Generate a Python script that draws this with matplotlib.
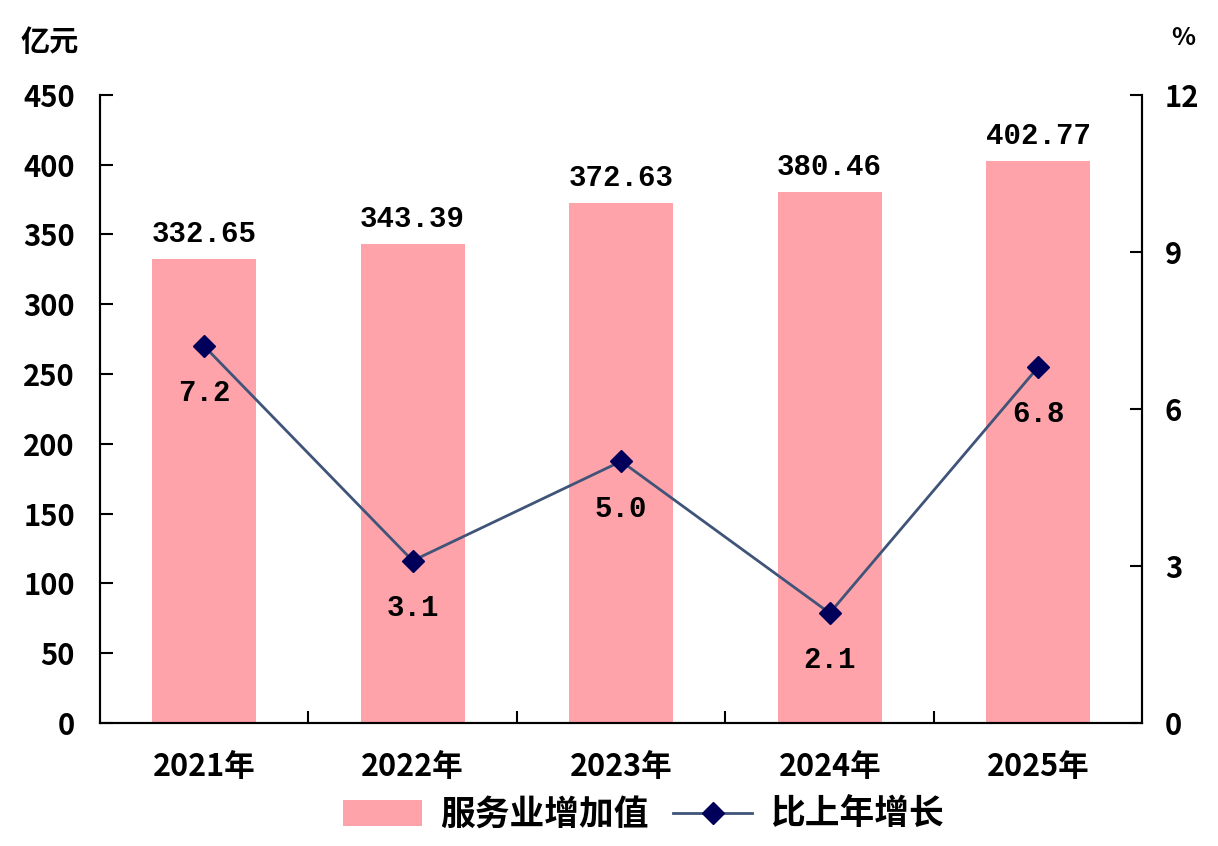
import matplotlib
matplotlib.use('Agg')
import matplotlib.pyplot as plt
import numpy as np
from matplotlib.patches import Patch
from matplotlib.lines import Line2D

plt.rcParams['font.family'] = ['Noto Sans CJK SC', 'DejaVu Sans']

# 数据
years = ['2021年', '2022年', '2023年', '2024年', '2025年']
service_value = [332.65, 343.39, 372.63, 380.46, 402.77]   # 亿元
growth = [7.2, 3.1, 5.0, 2.1, 6.8]                           # %

bar_color = '#FFA3AB'
line_color = '#3F5478'
marker_color = '#00005A'

fig = plt.figure(figsize=(12.18, 8.46), dpi=100)
ax = fig.add_axes([0.082, 0.1454, 0.856, 0.7424])
ax2 = ax.twinx()

x = np.arange(len(years))
ax.bar(x, service_value, width=0.5, color=bar_color, zorder=2)
ax.set_xlim(-0.5, len(years) - 0.5)
ax.set_ylim(0, 450)
ax.set_yticks(np.arange(0, 451, 50))
ax.set_xticks(x)
ax.set_xticklabels(years, fontsize=22, fontweight='bold')
ax.set_xticks(np.arange(0.5, len(years) - 1, 1), minor=True)
ax.tick_params(axis='x', which='major', length=0, pad=20)
ax.tick_params(axis='x', which='minor', direction='in', length=9, width=1.5)
ax.tick_params(axis='y', direction='in', length=9, width=1.5, labelsize=21, pad=18)
for lab in ax.get_yticklabels():
    lab.set_fontweight('bold')

for xi, v in zip(x, service_value):
    ax.annotate(f'{v:.2f}', xy=(xi, v), xytext=(0, 8), textcoords='offset points',
                ha='center', va='bottom', fontsize=21, fontweight='bold',
                family=['Liberation Mono', 'DejaVu Sans Mono'])

ax2.plot(x, growth, color=line_color, linewidth=2.0, marker='D', markersize=11,
         markerfacecolor=marker_color, markeredgecolor=marker_color, zorder=3)
ax2.set_ylim(0, 12)
ax2.set_yticks([0, 3, 6, 9, 12])
ax2.tick_params(axis='y', direction='in', length=9, width=1.5, labelsize=21, pad=16)
for lab in ax2.get_yticklabels():
    lab.set_fontweight('bold')

for xi, g in zip(x, growth):
    ax2.annotate(f'{g:.1f}', xy=(xi, g), xytext=(0, -34), textcoords='offset points',
                 ha='center', va='center', fontsize=21, fontweight='bold',
                 family=['Liberation Mono', 'DejaVu Sans Mono'])

for a in (ax, ax2):
    a.spines['top'].set_visible(False)
    for s in ('left', 'right', 'bottom'):
        a.spines[s].set_linewidth(1.5)

fig.text(50 / 1218, 1 - 42 / 846, '亿元', fontsize=21, fontweight='bold',
         ha='center', va='center')
fig.text(1183 / 1218, 1 - 38 / 846, '%', fontsize=18, fontweight='bold',
         ha='center', va='center')

handles = [Patch(facecolor=bar_color, edgecolor='none'),
           Line2D([0], [0], color=line_color, linewidth=2.0, marker='D', markersize=11,
                  markerfacecolor=marker_color, markeredgecolor=marker_color)]
fig.legend(handles, ['服务业增加值', '比上年增长'], loc='center',
           bbox_to_anchor=(0.528, 0.037), ncol=2, frameon=False,
           prop={'size': 25, 'weight': 'bold'}, handlelength=2.3, handleheight=0.75,
           columnspacing=0.7, handletextpad=0.5)

fig.savefig('out.png', dpi=100)
